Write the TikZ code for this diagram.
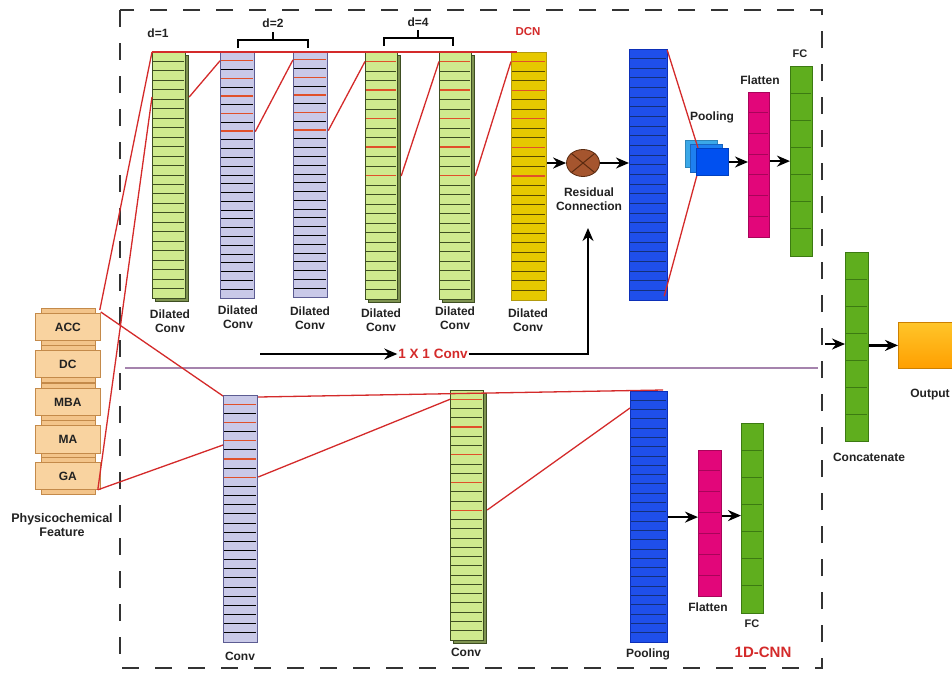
\documentclass[tikz,border=0pt]{standalone}
\usepackage{fontspec}
\setmainfont{Liberation Sans}
\usetikzlibrary{calc,arrows.meta,shapes.geometric}
\definecolor{redl}{HTML}{D42A2A}
\definecolor{redc}{HTML}{E0502A}
\definecolor{lgreen}{HTML}{CFEA8E}
\definecolor{dgreen}{HTML}{3E4E22}
\definecolor{sgreen}{HTML}{7E9350}
\definecolor{lav}{HTML}{C9C9E8}
\definecolor{lavd}{HTML}{5C5C92}
\definecolor{yel}{HTML}{E6C800}
\definecolor{yeld}{HTML}{B29A10}
\definecolor{yell}{HTML}{5A4A00}
\definecolor{blu}{HTML}{1F4FEA}
\definecolor{blud}{HTML}{0C2FB8}
\definecolor{blul}{HTML}{14307A}
\definecolor{mag}{HTML}{E2067A}
\definecolor{magd}{HTML}{A8045A}
\definecolor{fcg}{HTML}{5FAE1E}
\definecolor{fcgd}{HTML}{3C7A12}
\definecolor{feat}{HTML}{F9D3A0}
\definecolor{featb}{HTML}{F3C48A}
\definecolor{featd}{HTML}{C48A4A}
\definecolor{brn}{HTML}{A5552E}
\definecolor{brnd}{HTML}{5A2A10}
\definecolor{purp}{HTML}{A583AD}
\definecolor{txt}{HTML}{222222}
\definecolor{poola}{HTML}{3AA8E8}
\definecolor{poolb}{HTML}{1E80F0}
\definecolor{poolc}{HTML}{0050F0}
\definecolor{outa}{HTML}{FFC52A}
\definecolor{outb}{HTML}{FF9F00}

\newcommand\mylayer[9]{% name x1 y1 x2 y2 ncells fill border linecolor
  \node[draw=#8, fill=#7, line width=1.2pt, inner sep=0pt, anchor=north west,
        minimum width={(#4-#2)*1pt}, minimum height={(#5-#3)*1pt}] (#1) at (#2,#3) {};
  \pgfmathtruncatemacro{\mynn}{#6-1}
  \foreach \i in {1,...,\mynn}
    \draw[#9, line width=1pt] (#2+1,{#3+\i*(#5-#3)/#6}) -- (#4-1,{#3+\i*(#5-#3)/#6});
}
\newcommand\myredcells[6]{% x1 y1 x2 y2 ncells list
  \foreach \i in {#6}
    \draw[redc, line width=1.3pt] (#1+1,{#2+\i*(#4-#2)/#5}) -- (#3-1,{#2+\i*(#4-#2)/#5});
}
\newcommand\myshadow[6]{%
  \filldraw[fill=#6, draw=dgreen, line width=1pt] (#1+#5,#2+#5) rectangle (#3+#5,#4+#5);
}
\newcommand\myfeat[4]{% name ytop ybot text
  \draw[featd, fill=featb, line width=0.8pt] (41,#2-5) rectangle (95,#3+5);
  \node[draw=featd, fill=feat, line width=0.8pt, anchor=north west, minimum width=65pt,
        minimum height={(#3-#2)*1pt}, inner sep=0pt, lab] (#1) at (35,#2) {#4};
}
\newcommand\mybox[7]{% name x1 y1 x2 y2 fill border
  \node[draw=#7, fill=#6, line width=1pt, inner sep=0pt, anchor=north west,
        minimum width={(#4-#2)*1pt}, minimum height={(#5-#3)*1pt}] (#1) at (#2,#3) {};
}

\begin{document}
\begin{tikzpicture}[x=1pt,y=-1pt,
  lab/.style={font=\fontsize{12}{13.5}\selectfont\bfseries, text=txt, inner sep=1pt},
  redlab/.style={font=\fontsize{12}{13.5}\selectfont\bfseries, text=redl, inner sep=1pt},
  arr/.style={-{Stealth[length=13pt,width=11pt]}, line width=2.2pt, draw=black},
  conn/.style={draw=redl, line width=1.3pt},
  brk/.style={line width=1.6pt, draw=black}]
\useasboundingbox (0,0) rectangle (952,675);
\clip (0,0) rectangle (952,675);
\fill[white] (0,0) rectangle (952,675);

% outer dashed frame and separator
\draw[line width=2pt, draw=black!80, dash pattern=on 17pt off 16pt] (120,10) rectangle (822,668);
\draw[purp, line width=1.8pt] (125,368) -- (818,368);

% ---------- physicochemical features ----------
\myfeat{acc}{313}{340}{ACC}
\myfeat{dc}{350}{377}{DC}
\myfeat{mba}{388}{415}{MBA}
\myfeat{ma}{425}{453}{MA}
\myfeat{ga}{462}{489}{GA}
\node[lab, align=center, font=\fontsize{12.5}{14}\selectfont\bfseries] (pfl) at (62,525) {Physicochemical\\Feature};

% ---------- DCN branch ----------
\myshadow{152}{52}{185}{298}{3}{sgreen}
\mylayer{c1}{152}{52}{185}{298}{26}{lgreen}{dgreen}{dgreen}
\mylayer{c2}{220}{52}{254}{298}{28}{lav}{lavd}{black}
\myredcells{220}{52}{254}{298}{28}{1,3,5,7,9}
\mylayer{c3}{293}{51}{327}{297}{28}{lav}{lavd}{black}
\myredcells{293}{51}{327}{297}{28}{1,3,5,7,9}
\myshadow{365}{52}{397}{299}{3}{sgreen}
\mylayer{c4}{365}{52}{397}{299}{26}{lgreen}{dgreen}{dgreen}
\myredcells{365}{52}{397}{299}{26}{1,4,7,10,13}
\myshadow{439}{52}{471}{299}{3}{sgreen}
\mylayer{c5}{439}{52}{471}{299}{26}{lgreen}{dgreen}{dgreen}
\myredcells{439}{52}{471}{299}{26}{1,4,7,10,13}
\mylayer{c6}{511}{52}{546}{300}{26}{yel}{yeld}{yell}
\myredcells{511}{52}{546}{300}{26}{1,4,7,10,13}

\node[lab, align=center] (l1) at (170,321) {Dilated\\Conv};
\node[lab, align=center] (l2) at (238,317) {Dilated\\Conv};
\node[lab, align=center] (l3) at (310,318) {Dilated\\Conv};
\node[lab, align=center] (l4) at (381,320) {Dilated\\Conv};
\node[lab, align=center] (l5) at (455,318) {Dilated\\Conv};
\node[lab, align=center] (l6) at (528,320) {Dilated\\Conv};

\node[lab] (d1) at (158,33) {d=1};
\node[lab] (d2) at (273,23) {d=2};
\node[lab] (d4) at (418,22) {d=4};
\draw[brk] (238,48) -- (238,40) -- (308,40) -- (308,48);
\draw[brk] (273,40) -- (273,32);
\draw[brk] (384,46) -- (384,38) -- (453,38) -- (453,46);
\draw[brk] (418,38) -- (418,30);
\node[redlab, font=\fontsize{11.5}{13}\selectfont\bfseries] (dcn) at (528,32) {DCN};

% red receptive-field connectors
\draw[conn] (c1.north west) -- ($(c6.north west)+(6,0)$);
\draw[conn] ($(acc.north east)+(-1,-3)$) -- (c1.north west);
\draw[conn] ($(ga.south east)+(-3,0)$) -- ($(c1.north west)+(0,45)$);
\draw[conn] ($(c1.north east)+(3,45)$) -- ($(c2.north west)+(0,8.8)$);
\draw[conn] ($(c2.north east)+(0,79.7)$) -- ($(c3.north west)+(0,8.8)$);
\draw[conn] ($(c3.north east)+(0,79.7)$) -- ($(c4.north west)+(0,9.5)$);
\draw[conn] ($(c4.north east)+(3,124)$) -- ($(c5.north west)+(0,9.5)$);
\draw[conn] ($(c5.north east)+(3,124)$) -- ($(c6.north west)+(0,9.5)$);

% residual connection
\node[ellipse, draw=brnd, fill=brn, line width=0.8pt, minimum width=33pt, minimum height=27pt, inner sep=0pt] (res) at (583,163) {};
\draw[brnd, line width=1pt] (res.north west) -- (res.south east);
\draw[brnd, line width=1pt] (res.north east) -- (res.south west);
\node[lab, align=center] (resl) at (589,199) {Residual\\Connection};
\draw[arr] (res.west -| c6.east) -- (res.west);

\mylayer{c7}{629}{49}{667}{300}{26}{blu}{blud}{blul}
\draw[arr] (res.east) -- (res.east -| c7.west);

\coordinate (k1) at (260,354);
\coordinate (k2) at (588,228);
\node[redlab, font=\fontsize{13.5}{15}\selectfont\bfseries] (conv1) at (433,354) {1 X 1 Conv};
\draw[arr, line width=1.8pt] (k1) -- (conv1.west);
\draw[arr, line width=1.8pt] (conv1.east) -| (k2);

% pooling / flatten / FC (top)
\mybox{pa}{685}{140}{717}{167}{poola}{poola!80!black}
\mybox{pb}{690}{144}{722}{172}{poolb}{poolb!80!black}
\draw[conn] ($(c7.north east)+(-1,1)$) -- (698,148);
\draw[conn] ($(c7.south east)+(-4,-5)$) -- (697,175);
\mybox{pc}{696}{148}{728}{175}{poolc}{poolc!80!black}
\node[lab] (pooll) at (712,117) {Pooling};

\mylayer{tf}{748}{92}{769}{237}{7}{mag}{magd}{magd}
\node[lab] (tfl) at (760,80) {Flatten};
\mylayer{tfc}{790}{66}{812}{256}{7}{fcg}{fcgd}{fcgd}
\node[lab, font=\fontsize{11}{12}\selectfont\bfseries] (tfcl) at (800,54) {FC};
\draw[arr] (pc.east) -- (pc.east -| tf.west);
\coordinate (q1) at ($(tf.east)+(0,-4)$);
\draw[arr] (q1) -- (q1 -| tfc.west);

% ---------- 1D-CNN branch ----------
\mylayer{b1}{223}{395}{257}{642}{27}{lav}{lavd}{black}
\myredcells{223}{395}{257}{642}{27}{1,3,5,7,9}
\node[lab] (b1l) at (240,656) {Conv};
\myshadow{450}{390}{483}{640}{3}{sgreen}
\mylayer{b2}{450}{390}{483}{640}{27}{lgreen}{dgreen}{dgreen}
\myredcells{450}{390}{483}{640}{27}{1,4,7,10,13}
\node[lab] (b2l) at (466,652) {Conv};
\mylayer{b3}{630}{391}{667}{642}{27}{blu}{blud}{blul}
\node[lab] (b3l) at (648,654) {Pooling};

\draw[conn] ($(acc.north east)+(0,-1)$) -- ($(b1.north west)+(0,1)$);
\draw[conn] ($(ga.south east)+(-3,0)$) -- ($(b1.north west)+(0,50)$);
\draw[conn] ($(b1.north east)+(0,2)$) -- ($(b3.north east)+(-5,-1)$);
\draw[conn] ($(b1.north east)+(0,82)$) -- ($(b2.north west)+(0,9.3)$);
\draw[conn] ($(b2.north east)+(3,120)$) -- ($(b3.north west)+(0,17)$);

\mylayer{bf}{698}{450}{721}{596}{7}{mag}{magd}{magd}
\node[lab] (bfl) at (708,607) {Flatten};
\mylayer{bfc}{741}{423}{763}{613}{7}{fcg}{fcgd}{fcgd}
\node[lab, font=\fontsize{11}{12}\selectfont\bfseries] (bfcl) at (752,624) {FC};
\draw[arr] (b3.east) -- (b3.east -| bf.west);
\coordinate (q2) at ($(bf.east)+(0,-8)$);
\draw[arr] (q2) -- (q2 -| bfc.west);
\node[redlab, font=\fontsize{15}{16}\selectfont\bfseries] (cnnl) at (763,652) {1D-CNN};

% ---------- fusion ----------
\mylayer{cc}{845}{252}{868}{441}{7}{fcg}{fcgd}{fcgd}
\node[lab] (ccl) at (869,457) {Concatenate};
\coordinate (k3) at (825,344);
\draw[arr] (k3) -- (k3 -| cc.west);
\node[draw=outb!80!black, line width=0.8pt, top color=outa, bottom color=outb, inner sep=0pt,
      anchor=north west, minimum width=70pt, minimum height=46pt] (out) at (898,322) {};
\node[lab] (outl) at (930,395) {Output};
\draw[arr] (out.west -| cc.east) -- (out.west);
\end{tikzpicture}
\end{document}
